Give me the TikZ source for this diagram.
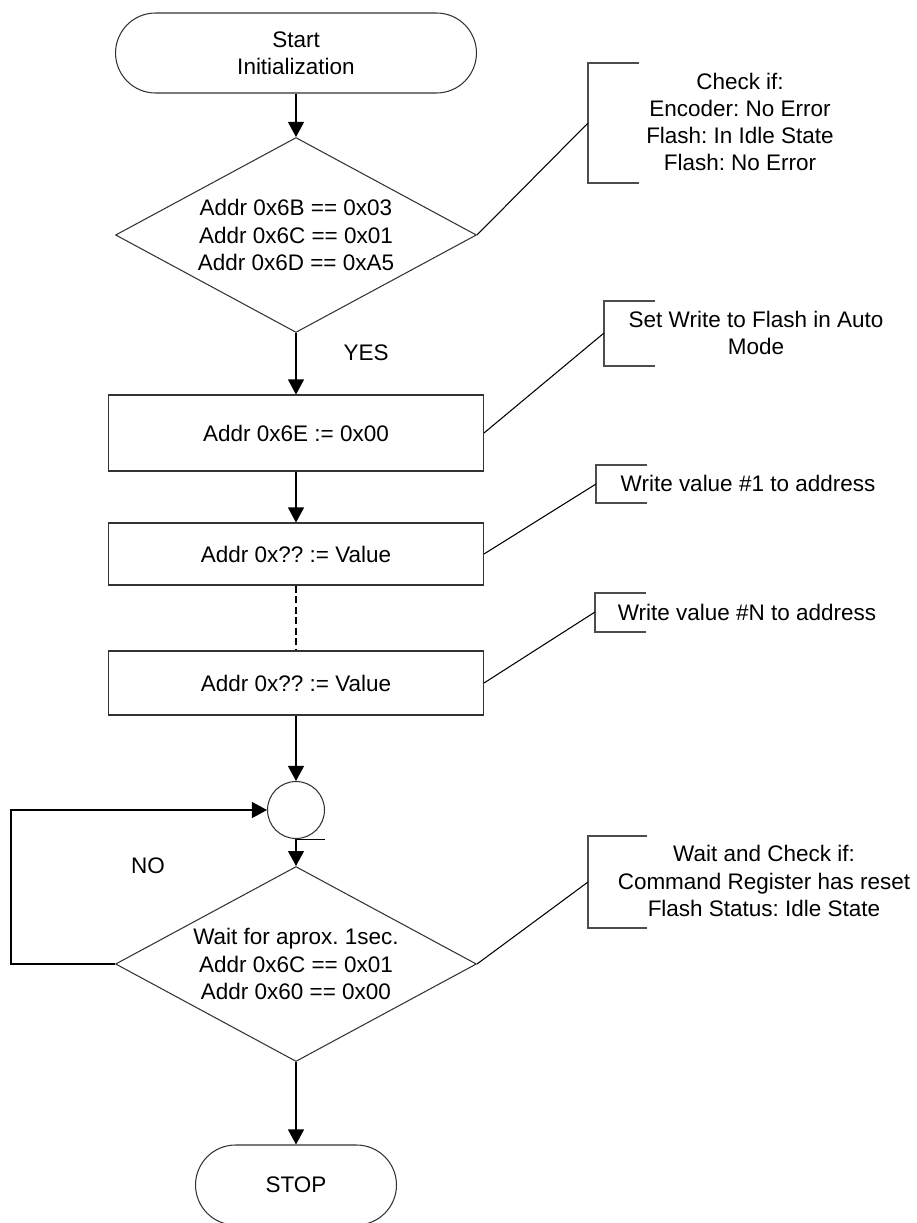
\documentclass[tikz,border=0pt]{standalone}
\usepackage{fontspec}
\setmainfont{Liberation Sans}
\usetikzlibrary{shapes.geometric, arrows.meta, positioning}
\tikzset{
	startstop/.style={rectangle, rounded corners=0.8cm, minimum height=1.6cm, text centered, align=center, draw=black!80},
	process/.style  ={rectangle, minimum width=7.5cm, text centered, align=center, draw=black!80},
	decision/.style ={diamond, aspect=1.85, minimum width=7.22cm, minimum height=3.9cm, inner sep=0pt, text centered, align=center, draw=black!80},
	junction/.style ={circle, draw=black!80, minimum size=1.14cm, inner sep=0pt},
	note/.style     ={align=center, inner sep=0pt},
	bracket/.style  ={draw=black!70},
	flowarrow/.style={-{Triangle[length=0.3cm, width=0.32cm]}},
}
\frenchspacing
\begin{document}
\begin{tikzpicture}[x=0.02cm, y=-0.02cm, line width=0.6pt, font=\fontsize{12.8pt}{15.4pt}\selectfont]
	\useasboundingbox (0,0) rectangle (916,1223);
	% main flow
	\node[startstop, minimum width=7.22cm] (start) at (296,53) {Start\\Initialization};
	\node[decision] (d1) at (296,235) {Addr 0x6B == 0x03\\Addr 0x6C == 0x01\\Addr 0x6D == 0xA5};
	\node[process, minimum height=1.52cm] (p1) at (296,433) {Addr 0x6E := 0x00};
	\node[process, minimum height=1.24cm] (p2) at (296,554) {Addr 0x?? := Value};
	\node[process, minimum height=1.28cm] (p3) at (296,683) {Addr 0x?? := Value};
	\node[junction] (jn) at (296,810) {};
	\node[decision] (d2) at (296,964) {Wait for aprox. 1sec.\\Addr 0x6C == 0x01\\Addr 0x60 == 0x00};
	\node[startstop, minimum width=4.02cm] (stop) at (296,1185) {STOP};
	\node (yes) at (366,353) {YES};
	\node (no) at (148,866) {NO};

	\draw[flowarrow] (start) -- (d1);
	\draw[flowarrow] (d1) -- (p1);
	\draw[flowarrow] (p1) -- (p2);
	\draw[dashed, dash pattern=on 4pt off 2pt] (p2) -- (p3);
	\draw[flowarrow] (p3) -- (jn);
	\draw (jn.south) -- ++(29,0);
	\draw[flowarrow] (jn) -- (d2);
	\draw[flowarrow] (d2.west) -- ++(-104,0) |- (jn.west);
	\draw[flowarrow] (d2) -- (stop);

	% comments on the right
	\coordinate (b1) at (588,123);
	\coordinate (b2) at (604,333);
	\coordinate (b3) at (596,484);
	\coordinate (b4) at (595,612);
	\coordinate (b5) at (588,882);
	\draw[bracket] (b1) ++(51,-60) -- ++(-51,0) -- ++(0,120) -- ++(51,0);
	\draw[bracket] (b2) ++(51,-32) -- ++(-51,0) -- ++(0,65) -- ++(51,0);
	\draw[bracket] (b3) ++(51,-19) -- ++(-51,0) -- ++(0,38) -- ++(51,0);
	\draw[bracket] (b4) ++(51,-19) -- ++(-51,0) -- ++(0,39) -- ++(51,0);
	\draw[bracket] (b5) ++(59,-46) -- ++(-59,0) -- ++(0,92) -- ++(59,0);
	\draw (d1.east) -- (b1);
	\draw (p1.east) -- (b2);
	\draw (p2.east) -- (b3);
	\draw (p3.east) -- (b4);
	\draw (d2.east) -- (b5);
	\node[note] (n1) at (740,122) {Check if:\\Encoder: No Error\\Flash: In Idle State\\Flash: No Error};
	\node[note] (n2) at (756,333) {Set Write to Flash in Auto\\Mode};
	\node[note] (n3) at (748,483) {Write value \#1 to address};
	\node[note] (n4) at (747,612) {Write value \#N to address};
	\node[note] (n5) at (764,881) {Wait and Check if:\\Command Register has reset\\Flash Status: Idle State};
\end{tikzpicture}
\end{document}
